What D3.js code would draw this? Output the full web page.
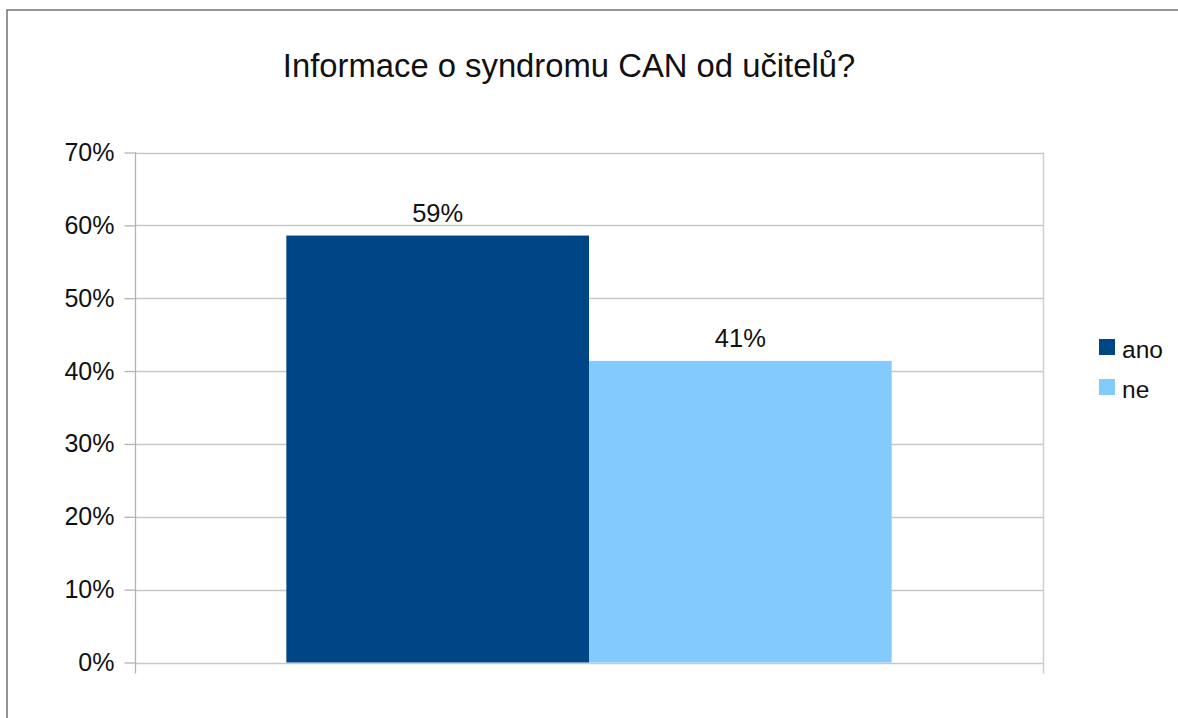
<!DOCTYPE html>
<html>
<head>
<meta charset="utf-8">
<script src="https://cdn.jsdelivr.net/npm/d3@7"></script>
<style>
  html, body { margin: 0; padding: 0; background: #fff; }
  svg { display: block; font-family: "Liberation Sans", Arial, sans-serif; }
</style>
</head>
<body>
<svg id="chart" width="1178" height="718"></svg>
<script>
// Survey answers: share of respondents
const chartTitle = "Informace o syndromu CAN od učitelů?";
const seriesNames = ["ano", "ne"];
const seriesValues = [0.586, 0.414];
const seriesColors = ["#004586", "#83caff"];
const yTicks = [0, 0.1, 0.2, 0.3, 0.4, 0.5, 0.6, 0.7];

const svg = d3.select("#chart");

// outer frame (extends past the right and bottom edges)
svg.append("rect")
  .attr("x", 7).attr("y", 10)
  .attr("width", 1200).attr("height", 740)
  .attr("fill", "none").attr("stroke", "#7a7a7a").attr("stroke-width", 1.6);

const plot = { left: 135, right: 1043, top: 152.5, bottom: 662.5 };

const y = d3.scaleLinear().domain([0, 0.7]).range([plot.bottom, plot.top]);

// single category; the bar group takes the middle two thirds
const groupX = d3.scaleBand().domain(["all"]).range([plot.left, plot.right]).paddingInner(0).paddingOuter(0.25);
const barX = d3.scaleBand().domain(seriesNames).range([0, groupX.bandwidth()]);
const g0 = groupX("all");

// horizontal gridlines
svg.append("g")
  .selectAll("line")
  .data(yTicks)
  .join("line")
  .attr("x1", plot.left).attr("x2", plot.right)
  .attr("y1", d => Math.round(y(d)) + 0.5).attr("y2", d => Math.round(y(d)) + 0.5)
  .attr("stroke", "#c8c8c8").attr("stroke-width", 1.3);

// right plot edge
svg.append("line")
  .attr("x1", plot.right + 0.5).attr("x2", plot.right + 0.5)
  .attr("y1", plot.top).attr("y2", plot.bottom + 11)
  .attr("stroke", "#d0d0d0").attr("stroke-width", 1.5);

// bars
svg.append("g")
  .selectAll("rect")
  .data(seriesNames)
  .join("rect")
  .attr("x", (d) => g0 + barX(d))
  .attr("width", barX.bandwidth())
  .attr("y", (d, i) => y(seriesValues[i]))
  .attr("height", (d, i) => y(0) - y(seriesValues[i]))
  .attr("fill", (d, i) => seriesColors[i]);

// value labels
svg.append("g")
  .selectAll("text")
  .data(seriesNames)
  .join("text")
  .attr("x", d => g0 + barX(d) + barX.bandwidth() / 2)
  .attr("y", (d, i) => y(seriesValues[i]) - 14)
  .attr("text-anchor", "middle")
  .attr("font-size", 25.5)
  .attr("fill", "#111")
  .text((d, i) => d3.format(".0%")(seriesValues[i]));

// y axis
const yAxis = d3.axisLeft(y)
  .tickValues(yTicks)
  .tickFormat(d3.format(".0%"))
  .tickSize(11)
  .tickPadding(10);
const ya = svg.append("g")
  .attr("transform", `translate(${plot.left + 0.5},0)`)
  .call(yAxis);
ya.select(".domain").remove();
ya.selectAll(".tick line").attr("stroke", "#b3b3b3").attr("stroke-width", 1.3);
ya.selectAll(".tick text")
  .attr("font-size", 25)
  .attr("font-family", "Liberation Sans, Arial, sans-serif")
  .attr("fill", "#111");
ya.append("line")
  .attr("x1", 0).attr("x2", 0)
  .attr("y1", plot.top).attr("y2", plot.bottom + 11)
  .attr("stroke", "#b3b3b3").attr("stroke-width", 1.3);

// title
svg.append("text")
  .attr("x", 569).attr("y", 77)
  .attr("text-anchor", "middle")
  .attr("font-size", 32.8)
  .attr("fill", "#111")
  .text(chartTitle);

// legend
const legend = svg.append("g").attr("transform", "translate(1099,339)");
const item = legend.selectAll("g")
  .data(seriesNames)
  .join("g")
  .attr("transform", (d, i) => `translate(0,${i * 40})`);
item.append("rect")
  .attr("width", 16).attr("height", 16)
  .attr("fill", (d, i) => seriesColors[i]);
item.append("text")
  .attr("x", 23).attr("y", 19)
  .attr("font-size", 24.5)
  .attr("fill", "#111")
  .text(d => d);
</script>
</body>
</html>
